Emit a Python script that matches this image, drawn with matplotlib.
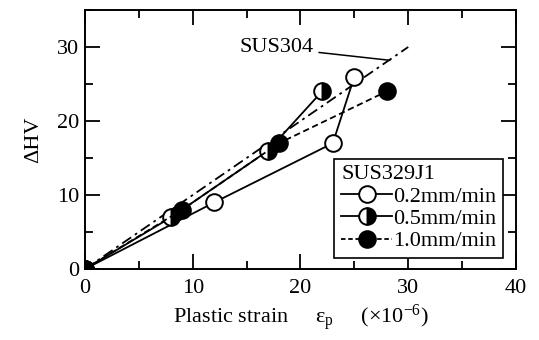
import matplotlib
matplotlib.use("Agg")
import matplotlib.pyplot as plt
from matplotlib.ticker import MultipleLocator
from matplotlib.lines import Line2D

plt.rcParams["font.family"] = ["Liberation Serif", "DejaVu Serif"]
plt.rcParams["mathtext.fontset"] = "custom"
plt.rcParams["mathtext.rm"] = "Liberation Serif"
plt.rcParams["mathtext.it"] = "Liberation Serif"

# SUS329J1 measurements (plastic strain x1e-6, delta HV)
strain_02 = [0, 12, 23, 25]
hv_02 = [0, 9, 17, 26]
strain_05 = [0, 8, 17, 22]
hv_05 = [0, 7, 16, 24]
strain_10 = [0, 9, 18, 28]
hv_10 = [0, 8, 17, 24]
# SUS304 reference line
strain_304 = [0, 30]
hv_304 = [0, 30]

labels = ["0.2mm/min", "0.5mm/min", "1.0mm/min"]

FS = 16

fig = plt.figure(figsize=(5.39, 3.40), dpi=100)
ax = fig.add_axes([0.1577, 0.2088, 0.7996, 0.7618])

ms = 12
mew = 1.4
ax.plot(strain_304, hv_304, color="black", lw=1.3, ls=(0, (6, 2.5, 1.5, 2.5)), zorder=2)
ax.plot(strain_02, hv_02, color="black", lw=1.3, marker="o", ms=ms, mew=mew,
        mfc="white", mec="black", zorder=3)
ax.plot(strain_05, hv_05, color="black", lw=1.3, marker="o", ms=ms, mew=mew,
        fillstyle="right", mfc="black", mfcalt="white", mec="black", zorder=4)
ax.plot(strain_10, hv_10, color="black", lw=1.3, ls=(0, (3.5, 2)), marker="o", ms=ms,
        mew=mew, mfc="black", mec="black", zorder=5)

ax.annotate("SUS304", xy=(28.3, 28.2), xytext=(21.2, 29.9), fontsize=FS,
            ha="right", va="center",
            arrowprops=dict(arrowstyle="-", color="black", lw=1.1,
                            shrinkA=2, shrinkB=0))

ax.set_xlim(0, 40)
ax.set_ylim(0, 35)
ax.xaxis.set_major_locator(MultipleLocator(10))
ax.xaxis.set_minor_locator(MultipleLocator(5))
ax.yaxis.set_major_locator(MultipleLocator(10))
ax.yaxis.set_minor_locator(MultipleLocator(5))
ax.tick_params(which="both", direction="in", top=True, right=True,
               width=1.3, labelsize=FS)
ax.tick_params(axis="x", pad=7)
ax.tick_params(axis="y", pad=4)
ax.tick_params(which="major", length=11)
ax.tick_params(which="minor", length=6)
for s in ax.spines.values():
    s.set_linewidth(1.4)

ax.set_xlabel(r"Plastic strain     $\mathrm{\varepsilon_p}$     ($\times$10$^{-6}$)",
              fontsize=FS, labelpad=3)
ax.set_ylabel("ΔHV", fontsize=FS, labelpad=10)

handles = [
    Line2D([], [], color="black", lw=1.3, marker="o", ms=ms, mew=mew, mfc="white", mec="black"),
    Line2D([], [], color="black", lw=1.3, marker="o", ms=ms, mew=mew, fillstyle="right",
           mfc="black", mfcalt="white", mec="black"),
    Line2D([], [], color="black", lw=1.3, ls=(0, (2.5, 1.5)), marker="o", ms=ms, mew=mew,
           mfc="black", mec="black"),
]
leg = ax.legend(handles, labels, title="SUS329J1", loc="lower right",
                bbox_to_anchor=(0.970, 0.042), fontsize=FS, title_fontsize=FS,
                frameon=True, fancybox=False, edgecolor="black", framealpha=1,
                handlelength=2.3, handletextpad=0.05, borderpad=0.3,
                labelspacing=0.08, borderaxespad=0)
leg._legend_box.align = "left"
leg.get_frame().set_linewidth(1.2)

fig.savefig("out.png", dpi=100)
